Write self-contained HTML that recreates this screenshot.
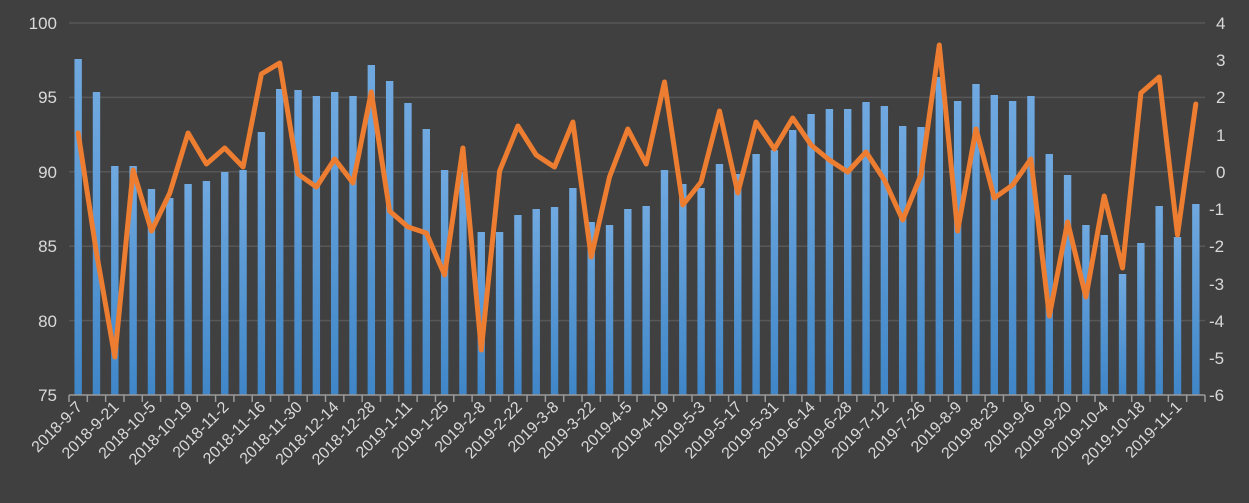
<!DOCTYPE html>
<html><head><meta charset="utf-8"><style>
html,body{margin:0;padding:0;background:#404040;}
svg{display:block;font-family:"Liberation Sans",sans-serif;}
</style></head><body>
<svg id="c" width="1249" height="503" viewBox="0 0 1249 503">
<defs><linearGradient id="g" x1="0" y1="0" x2="0" y2="1"><stop offset="0" stop-color="#70a9e0"/><stop offset="1" stop-color="#3f86c8"/></linearGradient></defs>
<rect width="1249" height="503" fill="#404040"/>
<g stroke="#575757" stroke-width="1.5">
<line x1="69" x2="1205" y1="23" y2="23"/><line x1="69" x2="1205" y1="97.4" y2="97.4"/><line x1="69" x2="1205" y1="171.8" y2="171.8"/><line x1="69" x2="1205" y1="246.2" y2="246.2"/><line x1="69" x2="1205" y1="320.6" y2="320.6"/>
</g>
<g id="bars"></g>
<g id="ticks" stroke="#9a9a9a" stroke-width="1.5"><line x1="69" x2="1205" y1="395" y2="395"/></g>
<polyline id="ln" fill="none" stroke="#ed7d31" stroke-width="5" stroke-linejoin="round" stroke-linecap="round"/>
<g fill="#d9d9d9" font-size="17" text-anchor="end">
<text x="57" y="29">100</text><text x="57" y="103">95</text><text x="57" y="178">90</text><text x="57" y="252">85</text><text x="57" y="327">80</text><text x="57" y="401">75</text>
</g>
<g fill="#d9d9d9" font-size="17" text-anchor="start">
<text x="1216" y="29">4</text><text x="1216" y="66">3</text><text x="1216" y="103">2</text><text x="1216" y="141">1</text><text x="1216" y="178">0</text><text x="1209" y="215">-1</text><text x="1209" y="252">-2</text><text x="1209" y="290">-3</text><text x="1209" y="327">-4</text><text x="1209" y="364">-5</text><text x="1209" y="401">-6</text>
</g>
<g id="lbl" fill="#d9d9d9" font-size="16" text-anchor="end">
<text>2018-9-7</text><text>2018-9-21</text><text>2018-10-5</text><text>2018-10-19</text><text>2018-11-2</text><text>2018-11-16</text><text>2018-11-30</text><text>2018-12-14</text><text>2018-12-28</text><text>2019-1-11</text><text>2019-1-25</text><text>2019-2-8</text><text>2019-2-22</text><text>2019-3-8</text><text>2019-3-22</text><text>2019-4-5</text><text>2019-4-19</text><text>2019-5-3</text><text>2019-5-17</text><text>2019-5-31</text><text>2019-6-14</text><text>2019-6-28</text><text>2019-7-12</text><text>2019-7-26</text><text>2019-8-9</text><text>2019-8-23</text><text>2019-9-6</text><text>2019-9-20</text><text>2019-10-4</text><text>2019-10-18</text><text>2019-11-1</text>
</g>
</svg>
<script>
var bt=[59,92,166,166,189,198,184,181,172,170,132,89,90,96,92,96,65,81,103,129,170,172,232,232,215,209,207,188,222,225,209,206,170,184,188,164,174,154,150,130,114,109,109,102,106,126,127,77,101,84,95,101,96,154,175,225,235,274,243,206,237,204];
var lp=[133,253,357,170,231,193,133,164,148,167,74,63,174,187,159,183,92,211,227,233,275,148,350,171,126,155,167,122,257,177,129,164,82,205,182,111,193,122,149,118,145,160,172,152,180,220,175,45,231,129,198,185,159,316,222,297,196,268,93,77,235,104];
var ns="http://www.w3.org/2000/svg",w=1136/62,b=document.getElementById('bars'),t=document.getElementById('ticks'),pts=[];
for(var i=0;i<62;i++){var cx=69+w*(i+0.5);
var r=document.createElementNS(ns,'rect');r.setAttribute('x',cx-3.7);r.setAttribute('width',7.4);r.setAttribute('y',bt[i]);r.setAttribute('height',395-bt[i]);r.setAttribute('fill','url(#g)');b.appendChild(r);
pts.push(cx.toFixed(1)+','+lp[i]);}
for(var i=0;i<=62;i++){var l=document.createElementNS(ns,'line');var x=69+w*i;l.setAttribute('x1',x);l.setAttribute('x2',x);l.setAttribute('y1',395);l.setAttribute('y2',402);t.appendChild(l);}
document.getElementById('ln').setAttribute('points',pts.join(' '));
var tx=document.getElementById('lbl').children;
for(var k=0;k<tx.length;k++){var cx=69+w*(2*k+0.5)+5;tx[k].setAttribute('transform','translate('+cx.toFixed(1)+',408) rotate(-45)');}
</script>
</body></html>
